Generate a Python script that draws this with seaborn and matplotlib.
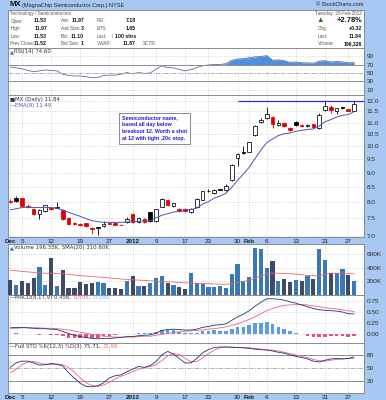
import numpy as np
import pandas as pd
import matplotlib
matplotlib.use("Agg")
import matplotlib.pyplot as plt
from matplotlib.ticker import NullLocator
import seaborn as sns

# values: MX daily, 1 Dec 2011 - 28 Feb 2012 (60 sessions)
opens = [8.05, 8.12, 8.13, 7.88, 7.78, 7.62, 7.73, 7.80, 7.85, 7.76,
         7.52, 7.37, 7.34, 7.35, 7.22, 7.23, 7.26, 7.35, 7.36, 7.31,
         7.38, 7.64, 7.38, 7.48, 7.68, 7.42, 7.86, 8.07, 7.87, 7.80,
         7.79, 7.69, 7.86, 8.08, 8.36, 8.31, 8.42, 8.41, 8.75, 9.55,
         9.76, 9.79, 10.46, 11.04, 11.19, 11.23, 10.90, 10.98, 10.76, 11.03,
         10.89, 10.86, 10.92, 10.75, 11.57, 11.71, 11.54, 11.68, 11.61, 11.53]
highs = [8.10, 8.20, 8.15, 7.95, 7.80, 7.78, 7.92, 7.85, 8.00, 7.80,
         7.55, 7.40, 7.36, 7.37, 7.25, 7.24, 7.42, 7.38, 7.38, 7.34,
         7.53, 7.66, 7.53, 7.50, 7.70, 7.80, 8.12, 8.10, 7.98, 7.82,
         7.82, 7.82, 8.12, 8.38, 8.42, 8.43, 8.44, 8.60, 9.33, 9.72,
         10.00, 10.18, 10.88, 11.20, 11.70, 11.30, 11.10, 11.02, 10.80, 11.05,
         10.93, 10.95, 10.95, 11.45, 12.02, 11.80, 11.66, 11.70, 11.63, 11.97]
lows = [7.98, 8.00, 7.87, 7.83, 7.60, 7.47, 7.70, 7.75, 7.82, 7.44,
        7.30, 7.30, 7.28, 7.25, 7.05, 7.02, 7.25, 7.32, 7.30, 7.29,
        7.37, 7.36, 7.36, 7.35, 7.39, 7.40, 7.84, 7.88, 7.85, 7.70,
        7.69, 7.67, 7.84, 8.06, 8.33, 8.25, 8.39, 8.38, 8.72, 9.25,
        9.70, 9.76, 10.44, 10.99, 11.15, 10.75, 10.85, 10.80, 10.63, 10.87,
        10.80, 10.82, 10.77, 10.72, 11.50, 11.45, 11.36, 11.62, 11.50, 11.53]
closes = [8.00, 8.04, 7.89, 7.86, 7.63, 7.75, 7.90, 7.79, 7.83, 7.47,
          7.34, 7.33, 7.31, 7.27, 7.20, 7.21, 7.34, 7.33, 7.31, 7.30,
          7.49, 7.38, 7.50, 7.38, 7.41, 7.78, 8.10, 7.91, 7.96, 7.73,
          7.71, 7.80, 8.10, 8.35, 8.38, 8.40, 8.41, 8.55, 9.29, 9.70,
          9.74, 10.16, 10.84, 11.13, 11.38, 10.93, 11.00, 10.85, 10.67, 10.90,
          10.83, 10.87, 10.80, 11.34, 11.75, 11.56, 11.64, 11.66, 11.52, 11.84]
prev_close_start = 8.05

ema9 = [7.76, 7.79, 7.83, 7.84, 7.83, 7.83, 7.83, 7.83, 7.81, 7.75,
        7.68, 7.62, 7.56, 7.49, 7.43, 7.40, 7.38, 7.38, 7.38, 7.38,
        7.39, 7.40, 7.41, 7.42, 7.43, 7.51, 7.59, 7.64, 7.69, 7.71,
        7.74, 7.77, 7.81, 7.94, 8.02, 8.13, 8.20, 8.29, 8.49, 8.73,
        8.95, 9.20, 9.52, 9.85, 10.15, 10.30, 10.44, 10.52, 10.55, 10.62,
        10.66, 10.70, 10.72, 10.85, 11.03, 11.13, 11.24, 11.32, 11.36, 11.49]

rsi14 = [64, 62, 60, 56, 53, 55, 57, 56, 55, 47,
         44, 43, 43, 41, 39, 39, 44, 45, 45, 47,
         51, 48, 51, 49, 50, 59, 67, 63, 62, 58,
         55, 58, 63, 67, 69, 70, 70, 72, 80, 83,
         84, 86, 88, 89, 91, 80, 81, 79, 75, 76,
         74, 74, 73, 78, 79, 76, 77, 76, 74, 74.6]

volume_k = [216, 142, 201, 167, 251, 406, 142, 550, 131, 366,
            92, 92, 182, 152, 167, 191, 167, 102, 102, 82,
            206, 276, 131, 131, 176, 251, 276, 167, 142, 117,
            77, 316, 167, 152, 117, 117, 127, 102, 306, 455,
            201, 266, 689, 679, 401, 505, 206, 231, 191, 216,
            201, 276, 226, 679, 515, 326, 326, 376, 286, 196.33]
vol_sma20_k = [360, 355, 345, 338, 330, 322, 318, 318, 315, 310,
               300, 290, 282, 275, 268, 262, 255, 248, 240, 232,
               225, 220, 215, 210, 205, 200, 195, 190, 185, 180,
               175, 172, 168, 165, 162, 158, 155, 152, 165, 182,
               195, 215, 245, 275, 305, 320, 318, 315, 310, 305,
               295, 285, 280, 278, 305, 320, 318, 315, 312, 310.6]

macd_line = [0.14, 0.15, 0.15, 0.14, 0.13, 0.12, 0.12, 0.11, 0.10, 0.06,
             0.01, -0.03, -0.06, -0.08, -0.10, -0.11, -0.10, -0.10, -0.09, -0.08,
             -0.06, -0.06, -0.04, -0.03, -0.02, 0.02, 0.08, 0.10, 0.11, 0.10,
             0.09, 0.09, 0.11, 0.15, 0.17, 0.20, 0.21, 0.23, 0.31, 0.39,
             0.45, 0.53, 0.63, 0.72, 0.80, 0.80, 0.79, 0.77, 0.73, 0.70,
             0.66, 0.62, 0.58, 0.55, 0.54, 0.53, 0.52, 0.50, 0.46, 0.456]
macd_signal = [0.13, 0.13, 0.14, 0.14, 0.14, 0.14, 0.13, 0.13, 0.12, 0.11,
               0.09, 0.07, 0.04, 0.02, -0.01, -0.03, -0.05, -0.06, -0.07, -0.07,
               -0.07, -0.07, -0.06, -0.05, -0.05, -0.03, -0.01, 0.01, 0.03, 0.05,
               0.06, 0.07, 0.08, 0.09, 0.11, 0.12, 0.14, 0.16, 0.19, 0.23,
               0.28, 0.33, 0.39, 0.46, 0.53, 0.58, 0.62, 0.65, 0.66, 0.67,
               0.67, 0.66, 0.64, 0.62, 0.60, 0.58, 0.57, 0.55, 0.53, 0.505]
macd_hist = [0.01, 0.02, 0.01, 0.00, -0.01, -0.02, -0.01, -0.02, -0.02, -0.05,
             -0.08, -0.10, -0.10, -0.10, -0.09, -0.08, -0.05, -0.04, -0.02, -0.01,
             0.01, 0.01, 0.02, 0.02, 0.03, 0.05, 0.09, 0.09, 0.08, 0.05,
             0.03, 0.02, 0.03, 0.06, 0.06, 0.08, 0.07, 0.07, 0.12, 0.16,
             0.17, 0.20, 0.24, 0.26, 0.27, 0.22, 0.17, 0.12, 0.07, 0.03,
             -0.01, -0.04, -0.06, -0.07, -0.06, -0.05, -0.05, -0.05, -0.07, -0.05]

sto_k = [52, 62, 66, 66, 62, 57, 58, 61, 59, 55,
         40, 27, 16, 9, 8, 10, 17, 28, 33, 35,
         42, 48, 54, 52, 56, 65, 80, 88, 82, 72,
         62, 62, 72, 85, 92, 97, 98, 98, 97, 97,
         96, 95, 93, 92, 91, 89, 86, 84, 80, 77,
         74, 71, 66, 64, 68, 71, 72, 71, 72, 75.71]
sto_d = [40, 48, 58, 64, 65, 62, 59, 58, 59, 58,
         51, 41, 28, 17, 11, 9, 12, 18, 26, 32,
         37, 42, 48, 51, 54, 58, 67, 78, 83, 81,
         72, 65, 65, 73, 83, 91, 96, 98, 98, 97,
         97, 96, 95, 93, 92, 91, 89, 86, 83, 80,
         77, 74, 70, 67, 66, 68, 70, 71, 72, 71.98]

tick_days = [0, 2, 7, 12, 17, 21, 25, 30, 34, 39, 41, 44, 49, 54, 58]
tick_labels = ["Dec", "5", "12", "19", "27", "2012", "9", "17", "23", "30",
               "Feb", "6", "13", "21", "27"]
bold_labels = {"Dec", "2012", "Feb"}
price_ticks = [7.0, 7.5, 8.0, 8.5, 9.0, 9.5, 10.0, 10.5, 11.0, 11.5, 12.0]
breakout_level = 12.0
breakout_from = 39

# colours
BG = "#a7c8f2"
RED = "#e00000"
UPVOL = "#3b78b8"
DNVOL = "#3f4a68"
NAVY = "#1d3476"
PINK = "#f0607a"
GRID = "#c4c4c4"
SANS = ["Liberation Sans", "DejaVu Sans"]
PANEL_FONT = ["DejaVu Sans"]

W, H = 386, 400
sns.set_style("white")
plt.rcParams["font.family"] = SANS

fig = plt.figure(figsize=(W / 100, H / 100), dpi=100, facecolor=BG)
days = np.arange(len(closes))


def panel(top, bottom):
    return fig.add_axes([8 / W, 1 - bottom / H, 356 / W, (bottom - top) / H])


def ftext(x, y, s, **kw):
    kw.setdefault("va", "center")
    return fig.text(x / W, 1 - y / H, s, **kw)


def style(ax, yticks, ylabels, ylim, dates=False):
    ax.set_facecolor("white")
    ax.set_xlim(-0.4, 60.7)
    ax.set_ylim(*ylim)
    ax.yaxis.set_minor_locator(NullLocator())
    ax.set_yticks(yticks)
    ax.set_yticklabels(ylabels)
    ax.yaxis.tick_right()
    ax.tick_params(axis="y", length=0, labelsize=4.6, pad=2, colors="#2a2a2a")
    ax.set_xticks(tick_days)
    ax.tick_params(axis="x", length=0, labelsize=4.5, pad=1.6, colors="#1a1a1a")
    if dates:
        ax.set_xticklabels(tick_labels)
        for t in ax.get_xticklabels():
            if t.get_text() in bold_labels:
                t.set_fontweight("bold")
    else:
        ax.set_xticklabels([])
    ax.grid(True, color=GRID, linestyle=(0, (1, 1.5)), linewidth=0.5)
    ax.set_axisbelow(True)
    for s in ax.spines.values():
        s.set_color("#8a8a8a")
        s.set_linewidth(0.7)
    ax.set_xlabel("")
    ax.set_ylabel("")


def label_run(y, pieces, x0=10, size=3.9):
    renderer = fig.canvas.get_renderer()
    x = x0 / W
    for s, c in pieces:
        t = fig.text(x, 1 - y / H, s, color=c, fontsize=size, va="center", ha="left",
                     family=PANEL_FONT)
        x = t.get_window_extent(renderer=renderer).x1 / fig.bbox.width


# ---- header ----
ftext(9, 4.8, "MX", fontsize=5.6, fontweight="bold", color="#111111")
ftext(21.5, 5.0, "(MagnaChip Semiconductor Corp.) NYSE", fontsize=4.0, color="#222222")
ftext(363, 5.0, "© StockCharts.com", fontsize=4.0, color="#222222", ha="right")

hax = fig.add_axes([8 / W, 1 - 48 / H, 356 / W, 38 / H])
hax.set_facecolor("white")
hax.set_xlim(8, 364)
hax.set_ylim(48, 10)
hax.set_xticks([])
hax.set_yticks([])
for s in hax.spines.values():
    s.set_color("#8a8a8a")
    s.set_linewidth(0.7)

lab = dict(fontsize=3.3, color="#555555", va="center")
val = dict(fontsize=3.7, color="#111111", fontweight="bold", va="center", ha="right")
hax.text(10.5, 14, "Technology / Semiconductors", **lab)
hax.text(362, 14, "Tuesday  28-Feb-2012", ha="right", **lab)
rows = [21, 28.5, 36, 43.5]
for y, l1, v1, l2, v2, l3, v3 in zip(
        rows,
        ["Open:", "High:", "Low:", "Prev Close:"],
        ["11.53", "11.97", "11.53", "11.52"],
        ["Ask:", "Ask Size:", "Bid:", "Bid Size:"],
        ["11.97", "3", "11.10", "1"],
        ["P/E:", "EPS:", "Last:", "VWAP:"],
        ["7.18", "1.65", "100 shrs", "11.87"]):
    hax.text(10.5, y, l1, **lab)
    hax.text(47, y, v1, **val)
    hax.text(61, y, l2, **lab)
    hax.text(84, y, v2, **val)
    hax.text(97, y, l3, **lab)
    hax.text(136, y, v3, **val)
hax.text(113.5, 36, "↑", fontsize=4.4, color="#1f8a1f", fontweight="bold", va="center", ha="right")
hax.text(143, 43.5, "SCTR:", **lab)
hax.text(320, 21, "▲", fontsize=5.5, color="#1f7a1f", va="center", ha="center")
hax.text(362, 21, "+2.78%", fontsize=5.4, color="#111111", fontweight="bold", va="center", ha="right")
for y, l, v in zip(rows[1:], ["Chg:", "Last:", "Volume:"], ["+0.32", "11.84", "196,326"]):
    hax.text(318, y, l, **lab)
    hax.text(362, y, v, **val)

# ---- RSI ----
ax_rsi = panel(48, 95)
sns.lineplot(x=days, y=rsi14, ax=ax_rsi, color="#5d6f9c", linewidth=0.6)
rsi_arr = np.array(rsi14)
ax_rsi.fill_between(days, 70, rsi_arr, where=rsi_arr >= 70, interpolate=True,
                    color="#4d8fe0", linewidth=0)
style(ax_rsi, [10, 30, 50, 70, 90], ["10", "30", "50", "70", "90"], (-2, 109))
ax_rsi.axhline(70, color="#8c8c8c", lw=0.7)
ax_rsi.axhline(30, color="#8c8c8c", lw=0.7)
ax_rsi.axhline(50, color="#b0b0b0", lw=0.7, linestyle=(0, (4, 1.5, 1, 1.5)))
label_run(52, [("▲", "#3c6fc0"), ("RSI(14) 74.60", "#333333")])

# ---- price ----
ax_p = panel(95, 237)
ax_p.set_yscale("log")
prev = [prev_close_start] + closes[:-1]
for i in days:
    o, h, l, c = opens[i], highs[i], lows[i], closes[i]
    edge = RED if c < prev[i] else "black"
    face = edge if c < o else "white"
    ax_p.vlines(i, l, h, color=edge, lw=0.6, zorder=3)
    lo, hi = min(o, c), max(o, c)
    hi = max(hi, lo * 1.0022)
    ax_p.bar(i, hi - lo, bottom=lo, width=0.62, facecolor=face, edgecolor=edge,
             linewidth=0.55, zorder=4)
sns.lineplot(x=days, y=ema9, ax=ax_p, color="#4b55b8", linewidth=0.7, zorder=5)
ax_p.hlines(breakout_level, breakout_from, 60.7, color="#2a2aee", lw=0.9, zorder=5)
style(ax_p, price_ticks, [f"{p:.1f}" for p in price_ticks], (6.96, 12.28), dates=True)
label_run(99, [("■", "#333333"), ("MX (Daily) 11.84", "#333333")])
label_run(106, [("—", "#4b55b8"), ("EMA(9) 11.49", "#4b55b8")])
ftext(122, 115.3, "Semiconductor name,\nbased all day below\nbreakout 12. Worth a shot\nat 12 with tight .20c stop.",
      va="top", ha="left", fontsize=3.75, color="#1c1cd8", fontweight="bold", linespacing=1.5,
      bbox=dict(boxstyle="square,pad=0.5", facecolor="white", edgecolor="#777777", linewidth=0.6))

# ---- volume ----
ax_v = panel(244, 295)
vol_colors = [DNVOL if c < p else UPVOL for c, p in zip(closes, prev)]
ax_v.bar(days, volume_k, width=0.72, color=vol_colors, edgecolor="none", zorder=3)
sns.lineplot(x=days, y=vol_sma20_k, ax=ax_v, color="#e66a6a", linewidth=0.6, zorder=4)
style(ax_v, [200, 400, 600], ["200K", "400K", "600K"], (-7, 754))
label_run(248, [("▲", "#3c6fc0"), ("Volume 196.33K, SMA(20) 310.60K", "#333333")])

# ---- MACD ----
ax_m = panel(295, 343)
hist_colors = ["#5b9be8" if v >= 0 else "#e8507c" for v in macd_hist]
ax_m.bar(days, macd_hist, width=0.62, color=hist_colors, edgecolor="none", zorder=3)
sns.lineplot(x=days, y=macd_signal, ax=ax_m, color=PINK, linewidth=0.6, zorder=4)
sns.lineplot(x=days, y=macd_line, ax=ax_m, color=NAVY, linewidth=0.6, zorder=5)
style(ax_m, [0, 0.25, 0.5, 0.75], ["0.00", "0.25", "0.50", "0.75"], (-0.205, 0.886))
label_run(297.5, [("—", NAVY), ("MACD(8,17,9) 0.456, ", "#333333"), ("0.505", PINK),
                  (", ", "#333333"), ("-0.050", "#7fa8e8")])

# ---- Full stochastics ----
ax_s = panel(343, 393)
sns.lineplot(x=days, y=sto_d, ax=ax_s, color=PINK, linewidth=0.6, zorder=4)
sns.lineplot(x=days, y=sto_k, ax=ax_s, color=NAVY, linewidth=0.6, zorder=5)
style(ax_s, [20, 50, 80], ["20", "50", "80"], (-6, 107), dates=True)
ax_s.axhline(80, color="#8c8c8c", lw=0.7)
ax_s.axhline(20, color="#8c8c8c", lw=0.7)
ax_s.axhline(50, color="#b0b0b0", lw=0.7, linestyle=(0, (4, 1.5, 1, 1.5)))
label_run(346.5, [("—", NAVY), ("Full STO %K(12,3) %D(3) 75.71, ", "#333333"), ("71.98", PINK)])

fig.savefig("out.png", dpi=100, facecolor=BG)
